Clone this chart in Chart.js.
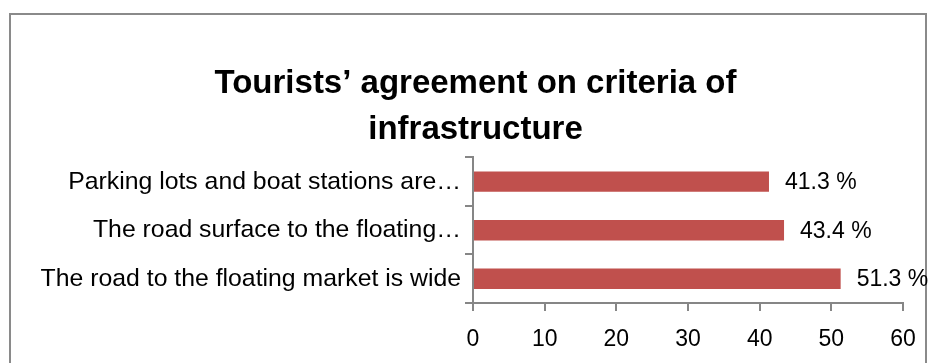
<!DOCTYPE html>
<html>
<head>
<meta charset="utf-8">
<title>Tourists’ agreement on criteria of infrastructure</title>
<script src="https://cdn.jsdelivr.net/npm/chart.js@4.4.1/dist/chart.umd.min.js"></script>
<style>
   html, body { margin: 0; padding: 0; background: #ffffff; }
   #wrap { position: relative; width: 936px; height: 363px; overflow: hidden; }
   #frame {
      position: absolute;
      left: 9px; top: 13px;
      width: 914px; height: 360px;
      border: 2px solid #8a8a8a;
      border-bottom: none;
   }
   #chart { position: absolute; left: 0; top: 0; }
</style>
</head>
<body>
<div id="wrap">
   <div id="frame"></div>
   <canvas id="chart" width="936" height="363"></canvas>
</div>
<script>
// Chart data
const criteria = [
   "Parking lots and boat stations are…",
   "The road surface to the floating…",
   "The road to the floating market is wide"
];
const agreePercent = [41.3, 43.4, 51.3];
const xTicks = [0, 10, 20, 30, 40, 50, 60];

const FONT = "'Liberation Sans', Arial, sans-serif";
const axisGray = "#868686";

// Percentage labels at the end of each bar
const barLabels = {
   id: 'barLabels',
   afterDatasetsDraw(chart) {
      const ctx = chart.ctx;
      const meta = chart.getDatasetMeta(0);
      ctx.save();
      ctx.font = "23px " + FONT;
      ctx.fillStyle = "#000000";
      ctx.textAlign = "left";
      ctx.textBaseline = "middle";
      meta.data.forEach((bar, i) => {
         ctx.fillText(agreePercent[i].toFixed(1) + " %", bar.x + 16, bar.y + 1);
      });
      ctx.restore();
   }
};

// nudge the title so it sits centred over the framed box
const titleShift = {
   id: 'titleShift',
   afterLayout(chart) {
      const t = chart.titleBlock;
      if (t) {
         t.left += 24;
         t.right += 24;
      }
   }
};

Chart.defaults.font.family = FONT;
Chart.defaults.color = "#000000";

new Chart(document.getElementById("chart"), {
   type: "bar",
   data: {
      labels: criteria,
      datasets: [{
         data: agreePercent,
         backgroundColor: "#C0504D",
         categoryPercentage: 1,
         barPercentage: 0.42
      }]
   },
   options: {
      indexAxis: "y",
      responsive: false,
      animation: false,
      layout: { padding: { left: 0, right: 33, top: 0, bottom: 0 } },
      plugins: {
         legend: { display: false },
         tooltip: { enabled: false },
         title: {
            display: true,
            text: ["Tourists’ agreement on criteria of", "infrastructure"],
            color: "#000000",
            font: { size: 33, weight: "bold", lineHeight: 1.4 },
            padding: { top: 61, bottom: 4 }
         }
      },
      scales: {
         x: {
            min: 0,
            max: 60,
            afterBuildTicks(scale) {
               scale.ticks = xTicks.map(v => ({ value: v }));
            },
            afterFit(scale) { scale.height = 60; },
            grid: {
               drawOnChartArea: false,
               drawTicks: true,
               tickLength: 8,
               color: axisGray,
               lineWidth: 2
            },
            border: { color: axisGray, width: 2 },
            ticks: { font: { size: 23 }, padding: 15, color: "#000000" }
         },
         y: {
            afterFit(scale) { scale.width = 473; },
            grid: {
               drawOnChartArea: false,
               drawTicks: true,
               tickLength: 8,
               color: axisGray,
               lineWidth: 2
            },
            border: { color: axisGray, width: 2 },
            ticks: { font: { size: 24.8 }, padding: 4, color: "#000000" }
         }
      }
   },
   plugins: [barLabels, titleShift]
});
</script>
</body>
</html>
